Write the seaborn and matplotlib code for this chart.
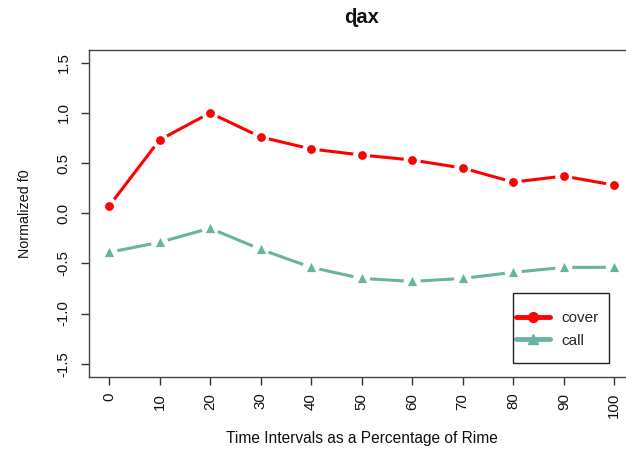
import matplotlib
matplotlib.use("Agg")
import matplotlib.pyplot as plt
from matplotlib.lines import Line2D
from matplotlib.patches import Rectangle
import seaborn as sns
import pandas as pd

# ---- data ----
time_pct = [0, 10, 20, 30, 40, 50, 60, 70, 80, 90, 100]
cover = [0.07, 0.73, 1.00, 0.76, 0.64, 0.58, 0.53, 0.45, 0.31, 0.37, 0.28]
call = [-0.39, -0.29, -0.15, -0.36, -0.54, -0.65, -0.68, -0.65, -0.59, -0.54, -0.54]
series_names = ["cover", "call"]
series_colors = {"cover": "#FF0000", "call": "#69B3A2"}
series_markers = {"cover": "o", "call": "^"}
y_ticks = [-1.5, -1.0, -0.5, 0.0, 0.5, 1.0, 1.5]
x_ticks = time_pct
title = "ɖax"
xlabel = "Time Intervals as a Percentage of Rime"
ylabel = "Normalized f0"

df = pd.concat([
    pd.DataFrame({"time": time_pct, "value": cover, "series": "cover"}),
    pd.DataFrame({"time": time_pct, "value": call, "series": "call"}),
], ignore_index=True)

sns.set_style("white")
plt.rcParams["font.family"] = ["Liberation Sans", "DejaVu Sans"]
plt.rcParams["axes.unicode_minus"] = False

W, H = 626, 450
fig = plt.figure(figsize=(W / 100, H / 100), dpi=100)
left, right, top, bottom = 88.8, 634.5, 49.7, 376.7
ax = fig.add_axes([left / W, 1 - bottom / H, (right - left) / W, (bottom - top) / H])

# lines
sns.lineplot(data=df, x="time", y="value", hue="series", palette=series_colors,
             linewidth=2.2, legend=False, ax=ax, zorder=2)
# white gaps around points (R type="b")
sns.scatterplot(data=df, x="time", y="value", hue="series",
                palette={k: "white" for k in series_names}, s=150, linewidth=0,
                legend=False, ax=ax, zorder=3)
# markers
for name in series_names:
    sub = df[df["series"] == name]
    sns.scatterplot(data=sub, x="time", y="value", color=series_colors[name],
                    marker=series_markers[name], s=40 if name == "cover" else 44,
                    linewidth=0, legend=False, ax=ax, zorder=4)

ax.set_xlim(-4, 104)
ax.set_ylim(-1.63, 1.63)
ax.set_xticks(x_ticks)
ax.set_xticklabels([str(v) for v in x_ticks], rotation=90, fontsize=10.8)
ax.set_yticks(y_ticks)
ax.set_yticklabels([f"{v:.1f}" for v in y_ticks], rotation=90, fontsize=10.8, va="center")
ax.set_xlabel("")
ax.set_ylabel("")
ax.tick_params(axis="both", direction="out", length=6, width=1, color="#333333",
               labelcolor="#111111", bottom=True, left=True)
ax.tick_params(axis="x", pad=5.5)
ax.tick_params(axis="y", pad=7)
for side in ["left", "top", "bottom", "right"]:
    ax.spines[side].set_color("#444444")
    ax.spines[side].set_linewidth(1.0)

# title and axis labels
cx = (left + right) / 2 / W
fig.text(cx, 1 - 23 / H, title, ha="center", va="baseline", fontsize=14.5,
         fontweight="bold", color="#111111")
fig.text(cx, 1 - 443 / H, xlabel, ha="center", va="baseline", fontsize=11.2, color="#111111")
fig.text(25 / W, 1 - ((top + bottom) / 2) / H, ylabel, ha="center", va="center",
         rotation=90, fontsize=10.3, color="#111111")

# legend
handles = [Line2D([], [], color=series_colors[n], lw=3.5, marker=series_markers[n],
                  markersize=7) for n in series_names]
ax.legend(handles, series_names, loc="center left", frameon=False, fontsize=11,
          bbox_to_anchor=(516 / W, 1 - 329.5 / H), bbox_transform=fig.transFigure,
          borderpad=0, borderaxespad=0, handlelength=2.2, handletextpad=0.75,
          labelspacing=0.55)
fig.add_artist(Rectangle((513 / W, 1 - 363 / H), 96 / W, 70 / H,
                         transform=fig.transFigure, fill=False, ec="#222222", lw=1.0))

fig.savefig("out.png", dpi=100)
